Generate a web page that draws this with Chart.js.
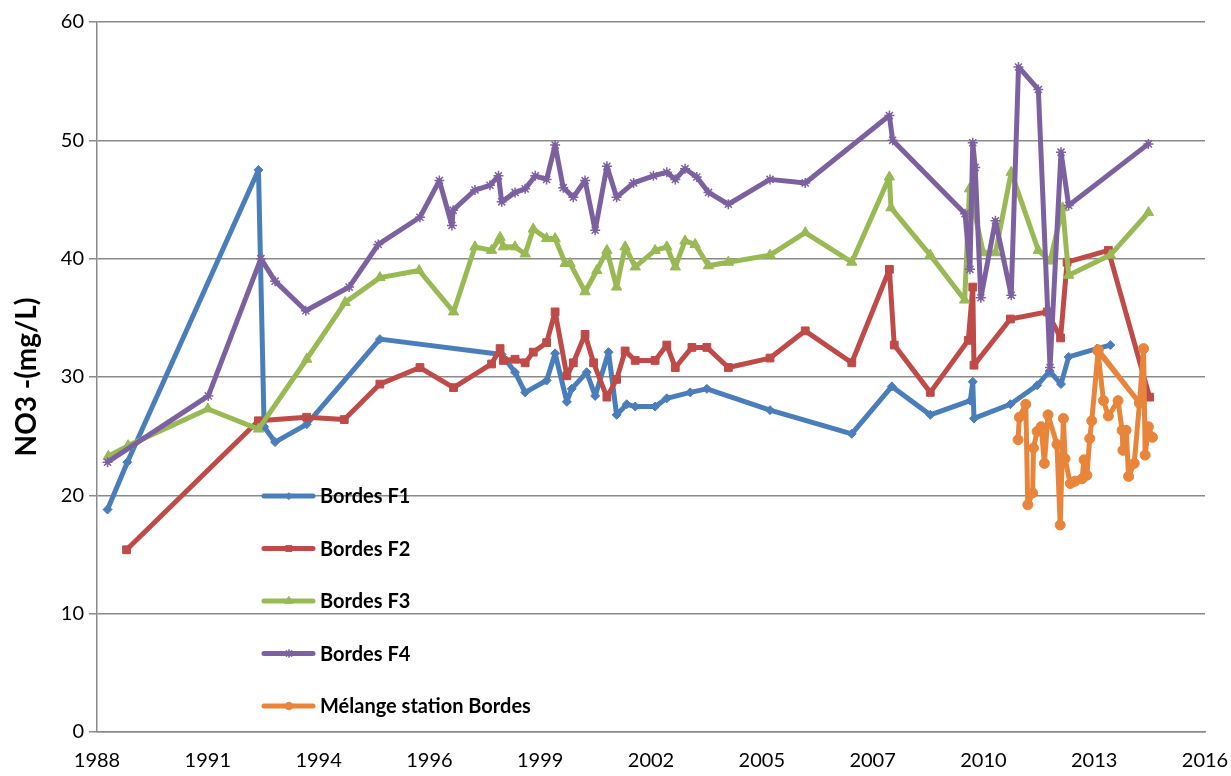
<!DOCTYPE html>
<html>
<head>
<meta charset="utf-8">
<script src="https://cdn.jsdelivr.net/npm/chart.js@4/dist/chart.umd.min.js"></script>
<style>
  html, body { margin: 0; padding: 0; background: #fff; }
  #wrap { width: 1231px; height: 776px; }
</style>
</head>
<body>
<div id="wrap"><canvas id="chart" width="1231" height="776"></canvas></div>
<script>
// Dates are decimal years, values are NO3 in mg/L
const f1Dates = [1988.96, 1989.45, 1992.69, 1992.83, 1993.10, 1993.88, 1995.69, 1998.70, 1999.03, 1999.28,
  1999.81, 2000.02, 2000.31, 2000.43, 2000.80, 2001.01, 2001.34, 2001.54, 2001.79, 2002.00,
  2002.49, 2002.78, 2003.36, 2003.77, 2005.33, 2007.35, 2008.34, 2009.29, 2010.28, 2010.34,
  2010.37, 2011.27, 2011.93, 2012.24, 2012.52, 2012.71, 2013.41, 2013.74];
const f1Values = [18.8, 22.8, 47.5, 25.8, 24.5, 26.0, 33.2, 31.9, 30.4, 28.7,
  29.7, 32.0, 27.9, 29.0, 30.4, 28.4, 32.1, 26.8, 27.7, 27.5,
  27.5, 28.2, 28.7, 29.0, 27.2, 25.2, 29.2, 26.8, 28.0, 29.6,
  26.5, 27.7, 29.3, 30.5, 29.4, 31.7, 32.4, 32.7];

const f2Dates = [1989.43, 1992.69, 1993.88, 1994.81, 1995.69, 1996.68, 1997.51, 1998.45, 1998.66, 1998.74,
  1999.03, 1999.28, 1999.48, 1999.81, 2000.02, 2000.31, 2000.47, 2000.76, 2000.97, 2001.30,
  2001.54, 2001.75, 2002.00, 2002.49, 2002.78, 2002.99, 2003.40, 2003.77, 2004.30, 2005.33,
  2006.20, 2007.35, 2008.28, 2008.40, 2009.29, 2010.23, 2010.34, 2010.37, 2011.27, 2012.18,
  2012.51, 2012.67, 2013.69, 2014.71];
const f2Values = [15.4, 26.3, 26.6, 26.4, 29.4, 30.8, 29.1, 31.1, 32.4, 31.4,
  31.5, 31.2, 32.1, 32.9, 35.5, 30.1, 31.2, 33.6, 31.2, 28.3,
  29.8, 32.2, 31.4, 31.4, 32.7, 30.8, 32.5, 32.5, 30.8, 31.6,
  33.9, 31.2, 39.1, 32.7, 28.7, 33.1, 37.6, 31.0, 34.9, 35.5,
  33.3, 39.7, 40.7, 28.3];

const f3Dates = [1988.98, 1989.47, 1991.44, 1992.69, 1993.88, 1994.83, 1995.69, 1996.66, 1997.51, 1998.04,
  1998.45, 1998.66, 1998.74, 1999.03, 1999.28, 1999.48, 1999.81, 2000.02, 2000.27, 2000.39,
  2000.76, 2001.05, 2001.30, 2001.54, 2001.75, 2002.00, 2002.49, 2002.78, 2002.99, 2003.23,
  2003.48, 2003.81, 2004.30, 2005.33, 2006.20, 2007.35, 2008.28, 2008.32, 2009.29, 2010.14,
  2010.26, 2010.60, 2010.90, 2011.29, 2011.96, 2012.25, 2012.56, 2012.71, 2013.74, 2014.68];
const f3Values = [23.3, 24.2, 27.3, 25.6, 31.5, 36.3, 38.4, 39.0, 35.5, 41.0,
  40.7, 41.8, 41.0, 41.0, 40.4, 42.5, 41.7, 41.7, 39.6, 39.6,
  37.2, 39.0, 40.7, 37.6, 41.0, 39.3, 40.7, 41.0, 39.3, 41.5,
  41.2, 39.4, 39.7, 40.3, 42.2, 39.7, 46.9, 44.3, 40.3, 36.5,
  45.9, 40.5, 40.5, 47.3, 40.7, 39.8, 44.3, 38.6, 40.3, 43.9];

const f4Dates = [1988.96, 1991.45, 1992.75, 1993.10, 1993.86, 1994.93, 1995.65, 1996.68, 1997.16, 1997.47,
  1997.50, 1998.04, 1998.41, 1998.62, 1998.70, 1999.03, 1999.28, 1999.53, 1999.81, 2000.02,
  2000.22, 2000.47, 2000.76, 2001.01, 2001.30, 2001.54, 2001.96, 2002.45, 2002.78, 2002.99,
  2003.23, 2003.52, 2003.81, 2004.30, 2005.33, 2006.20, 2008.28, 2008.36, 2010.15, 2010.27,
  2010.34, 2010.40, 2010.54, 2010.90, 2011.29, 2011.47, 2011.96, 2012.25, 2012.52, 2012.71,
  2014.68];
const f4Values = [22.8, 28.4, 40.0, 38.1, 35.6, 37.6, 41.2, 43.5, 46.6, 42.8,
  44.1, 45.8, 46.2, 47.0, 44.8, 45.6, 45.9, 47.0, 46.7, 49.6,
  46.0, 45.2, 46.6, 42.4, 47.8, 45.2, 46.4, 47.0, 47.3, 46.7,
  47.6, 46.9, 45.6, 44.6, 46.7, 46.4, 52.1, 50.0, 43.8, 39.1,
  49.8, 47.7, 36.7, 43.2, 36.9, 56.2, 54.3, 30.8, 49.0, 44.5,
  49.7];

// mixed water: samples in the order the line joins them
const mixDates = [2011.46, 2011.49, 2011.65, 2011.70, 2011.82, 2011.84, 2011.93, 2012.03, 2012.11, 2012.20,
  2012.42, 2012.50, 2012.58, 2012.62, 2012.75, 2012.87, 2013.04, 2013.09, 2013.16, 2013.23,
  2013.28, 2013.44, 2014.46, 2013.43, 2013.57, 2013.69, 2013.93, 2014.03, 2014.05, 2014.13,
  2014.19, 2014.33, 2014.46, 2014.56, 2014.60, 2014.68, 2014.78];
const mixValues = [24.7, 26.6, 27.7, 19.2, 20.2, 24.0, 25.4, 25.8, 22.7, 26.8,
  24.3, 17.5, 26.5, 23.1, 21.0, 21.2, 21.4, 23.0, 21.7, 24.8,
  26.3, 32.3, 27.8, 32.2, 28.0, 26.7, 28.0, 25.5, 23.8, 25.5,
  21.6, 22.7, 27.8, 32.4, 23.4, 25.8, 24.9];

const seriesNames = ['Bordes F1', 'Bordes F2', 'Bordes F3', 'Bordes F4', 'Mélange station Bordes'];
const seriesColors = ['#4A7EBB', '#BE4B48', '#98B954', '#7D60A0', '#E8853A'];
const tickLabels = ['1988', '1991', '1994', '1996', '1999', '2002', '2005', '2007', '2010', '2013', '2016'];

// the date axis steps by 1000 days, like the spreadsheet it came from
const axisStart = 1988.70;
const tickStep = 1000 / 365.25;

function points(dates, values) {
  return dates.map((d, i) => ({ x: d, y: values[i] }));
}

const markers = [
  { style: 'rectRot', radius: 4.5, border: 1 },
  { style: 'rect', radius: 5.5, border: 1 },
  { style: 'triangle', radius: 6, border: 1 },
  { style: 'star', radius: 5, border: 1.5 },
  { style: 'circle', radius: 5, border: 1 }
];

const allData = [
  points(f1Dates, f1Values),
  points(f2Dates, f2Values),
  points(f3Dates, f3Values),
  points(f4Dates, f4Values),
  points(mixDates, mixValues)
];

const datasets = allData.map((data, i) => ({
  label: seriesNames[i],
  data: data,
  borderColor: seriesColors[i],
  backgroundColor: seriesColors[i],
  pointBackgroundColor: seriesColors[i],
  pointBorderColor: seriesColors[i],
  borderWidth: 5,
  borderJoinStyle: 'round',
  borderCapStyle: 'round',
  pointStyle: markers[i].style,
  pointRadius: markers[i].radius,
  pointBorderWidth: markers[i].border,
  showLine: true,
  tension: 0,
  order: 5 - i // later series on top, like Excel
}));

// legend sits inside the plot, left of centre
const insideLegend = {
  id: 'insideLegend',
  afterDatasetsDraw(chart) {
    const ctx = chart.ctx;
    chart.data.datasets.forEach((ds, i) => {
      const y = 496 + i * 52.5;
      ctx.save();
      ctx.strokeStyle = ds.borderColor;
      ctx.fillStyle = ds.borderColor;
      ctx.lineWidth = 5;
      ctx.lineCap = 'round';
      ctx.beginPath();
      ctx.moveTo(264, y);
      ctx.lineTo(313, y);
      ctx.stroke();
      ctx.lineWidth = markers[i].border;
      Chart.helpers.drawPoint(ctx, {
        pointStyle: ds.pointStyle,
        radius: ds.pointRadius * 0.75,
        rotation: 0,
        borderWidth: markers[i].border
      }, 289, y);
      ctx.fillStyle = '#000';
      ctx.font = 'bold 20px Lato';
      ctx.textBaseline = 'middle';
      ctx.textAlign = 'left';
      ctx.fillText(ds.label, 320, y + 1);
      ctx.restore();
    });
  }
};

const gridGrey = '#8A8A8A';

new Chart(document.getElementById('chart').getContext('2d'), {
  type: 'scatter',
  data: { datasets: datasets },
  options: {
    responsive: false,
    animation: false,
    layout: { padding: { top: 22, right: 26, left: 0, bottom: 0 } },
    plugins: {
      legend: { display: false },
      tooltip: { enabled: false }
    },
    scales: {
      x: {
        type: 'linear',
        min: axisStart,
        max: axisStart + 10 * tickStep,
        afterBuildTicks: (scale) => {
          scale.ticks = tickLabels.map((t, i) => ({ value: axisStart + i * tickStep }));
        },
        afterFit: (scale) => {
          scale.height = 44;
          scale.paddingLeft = 0;
          scale.paddingRight = 0; // layout padding decides the right edge
        },
        grid: { display: false, drawTicks: false },
        border: { display: true, color: gridGrey, width: 1.5 },
        ticks: {
          autoSkip: false,
          maxRotation: 0,
          padding: 17,
          color: '#000',
          font: { family: 'Lato', size: 20 },
          callback: (value, index) => tickLabels[index]
        }
      },
      y: {
        min: 0,
        max: 60,
        afterFit: (scale) => { scale.width = 97; },
        grid: { color: gridGrey, lineWidth: 1.5, tickLength: 8 },
        border: { display: true, color: gridGrey, width: 1.5 },
        ticks: {
          stepSize: 10,
          padding: 5,
          color: '#000',
          font: { family: 'Lato', size: 20 }
        },
        title: {
          display: true,
          text: 'NO3 -(mg/L)',
          color: '#000',
          padding: { top: 10, bottom: 0 },
          font: { family: 'Lato', size: 28, weight: 'bold' }
        }
      }
    }
  },
  plugins: [insideLegend]
});
</script>
</body>
</html>
